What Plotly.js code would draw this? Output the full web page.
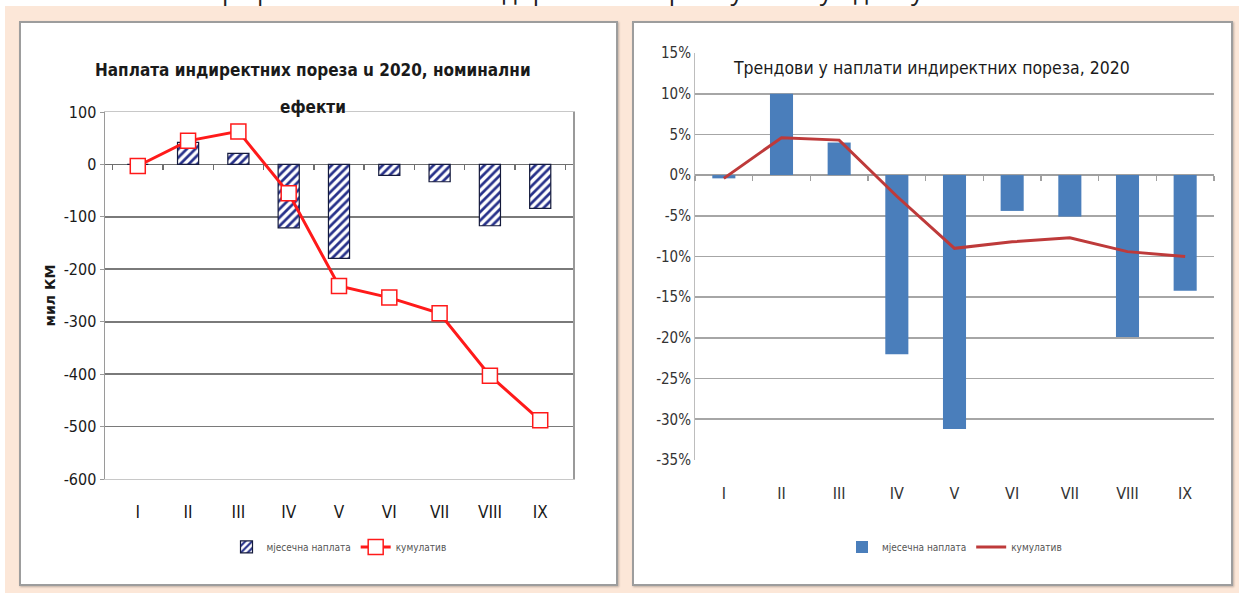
<!DOCTYPE html>
<html>
<head>
<meta charset="utf-8">
<script src="https://cdn.plot.ly/plotly-3.0.1.min.js"></script>
<style>
  html, body { margin: 0; padding: 0; background: #fff; width: 1239px; height: 593px; overflow: hidden; }
  #page { position: relative; width: 1239px; height: 593px; }
  #peach { position: absolute; left: 5px; top: 6px; right: 0; bottom: 0; background: #fce7d8; }
  #caption { position: absolute; left: 0; top: -27px; width: 1239px; text-align: center;
             font: 25px "Open Sans", sans-serif; color: #222; white-space: nowrap; }
  .box { position: absolute; background: #fff; border: 2px solid #9d9d9d; box-sizing: border-box;
         box-shadow: 1px 1px 2px rgba(0,0,0,0.25); }
  #left { left: 19px; top: 21px; width: 599px; height: 565px; }
  #right { left: 632px; top: 21px; width: 601px; height: 565px; }
</style>
</head>
<body>
<div id="page">
  <div id="peach"></div>
  <div id="caption">Графикон 5: Наплата индиректних пореза у 2020. у односу на 2019.</div>
  <div class="box" id="left"></div>
  <div class="box" id="right"></div>
</div>
<script>
// months (roman numerals)
const MONTHS = ['I', 'II', 'III', 'IV', 'V', 'VI', 'VII', 'VIII', 'IX'];

// left panel: nominal effects, mil KM
const monthlyKM = [0, 42, 21, -121, -179, -21, -33, -117, -84];
const cumulKM = [-3, 45, 63, -55, -232, -254, -284, -403, -488];
const kmTicks = [-600, -500, -400, -300, -200, -100, 0, 100];
const kmRange = [-600, 100];

// right panel: trends, %
const monthlyPct = [-0.4, 10.0, 4.0, -22.0, -31.2, -4.4, -5.1, -19.9, -14.2];
const cumulPct = [-0.4, 4.6, 4.3, -2.6, -9.0, -8.2, -7.7, -9.4, -10.0];
const pctTicks = [-35, -30, -25, -20, -15, -10, -5, 0, 5, 10, 15];
const pctRange = [-35, 15];

const NARROW = '"Liberation Sans Narrow", "DejaVu Sans Condensed", Arial, sans-serif';
const LEG_LABELS = ['мјесечна наплата', 'кумулатив'];
const CONFIG = { staticPlot: true, displayModeBar: false };

// where the zero line sits as a fraction of the plot height
const zeroFrac = (r) => (0 - r[0]) / (r[1] - r[0]);

// category-boundary tick marks hanging off the zero line (Excel style)
const zeroTickAxis = (r, color) => ({
  type: 'category', overlaying: 'x', matches: 'x', anchor: 'free', position: zeroFrac(r),
  side: 'bottom', showgrid: false, zeroline: false, showline: false, showticklabels: false,
  ticks: 'outside', tickson: 'boundaries', ticklen: 5, tickcolor: color, tickwidth: 1.3,
});

// --- left: hatched bars + red line with open squares ---------------------
Plotly.newPlot('left', [
  {
    x: MONTHS, y: monthlyKM, type: 'bar', name: LEG_LABELS[0],
    marker: {
      color: '#ffffff',
      line: { color: '#141a3c', width: 1.2 },
      pattern: { shape: '/', fgcolor: '#27318a', bgcolor: '#ffffff', size: 6, solidity: 0.45 },
    },
  },
  {
    x: MONTHS, y: cumulKM, type: 'scatter', mode: 'lines+markers', name: LEG_LABELS[1], xaxis: 'x2',
    line: { color: '#ff1a1a', width: 3 },
    marker: { symbol: 'square', size: 15, color: '#ffffff', line: { color: '#ff1a1a', width: 1.5 } },
  },
], {
  width: 595, height: 561,
  margin: { l: 84, r: 43, t: 89, b: 105 },
  paper_bgcolor: '#ffffff', plot_bgcolor: '#ffffff',
  font: { family: NARROW, color: '#1a1a1a' },
  bargap: 0.58,
  xaxis: {
    type: 'category', showgrid: false, zeroline: false,
    showline: true, mirror: true, linecolor: '#c8c8c8', linewidth: 1,
    ticks: '', ticklabelstandoff: 18, tickfont: { size: 17, family: NARROW },
  },
  xaxis2: zeroTickAxis(kmRange, '#6f6f6f'),
  yaxis: {
    range: kmRange, tickvals: kmTicks, ticktext: kmTicks.map(String),
    gridcolor: '#7a7a7a', gridwidth: 1.6,
    zeroline: true, zerolinecolor: '#6f6f6f', zerolinewidth: 1.6,
    showline: true, mirror: true, linecolor: '#9a9a9a', linewidth: 1.5,
    ticks: 'outside', ticklen: 4, tickcolor: '#9a9a9a',
    tickfont: { size: 16, family: NARROW },
    title: { text: '<b>мил КМ</b>', font: { size: 14, family: '"DejaVu Sans", Arial, sans-serif' }, standoff: 4 },
  },
  annotations: [
    { text: '<b>Наплата индиректних пореза u 2020, номинални</b>', xref: 'paper', yref: 'paper',
      x: 0.445, y: 1 + 42 / 367, xanchor: 'center', yanchor: 'middle', showarrow: false,
      font: { size: 17, family: NARROW, color: '#1a1a1a' } },
    { text: '<b>ефекти</b>', xref: 'paper', yref: 'paper',
      x: 0.445, y: 1 + 5 / 367, xanchor: 'center', yanchor: 'middle', showarrow: false,
      font: { size: 17, family: NARROW, color: '#1a1a1a' } },
  ],
  showlegend: true,
  legend: {
    orientation: 'h', x: 0.5, xanchor: 'center', yref: 'container', y: 0.066, yanchor: 'middle',
    font: { size: 10, family: NARROW, color: '#555' }, itemwidth: 30, tracegroupgap: 0,
  },
}, CONFIG);

// --- right: blue bars + dark red line ---------------------------------------
Plotly.newPlot('right', [
  {
    x: MONTHS, y: monthlyPct, type: 'bar', name: LEG_LABELS[0],
    marker: { color: '#4a7ebb' },
  },
  {
    x: MONTHS, y: cumulPct, type: 'scatter', mode: 'lines', name: LEG_LABELS[1], xaxis: 'x2',
    line: { color: '#be3a3a', width: 3 },
  },
], {
  width: 597, height: 561,
  margin: { l: 61, r: 17, t: 30, b: 124 },
  paper_bgcolor: '#ffffff', plot_bgcolor: '#ffffff',
  font: { family: NARROW, color: '#1a1a1a' },
  bargap: 0.6,
  xaxis: {
    type: 'category', showgrid: false, zeroline: false, showline: false,
    ticks: '', ticklabelstandoff: 22, tickfont: { size: 16, family: NARROW, color: '#333' },
  },
  xaxis2: zeroTickAxis(pctRange, '#a0a0a0'),
  yaxis: {
    range: pctRange, tickvals: pctTicks, ticktext: pctTicks.map((v) => v + '%'),
    gridcolor: '#a6a6a6', gridwidth: 1.6,
    zeroline: true, zerolinecolor: '#a0a0a0', zerolinewidth: 1.6,
    showline: true, linecolor: '#bdbdbd', linewidth: 1,
    ticks: '', tickfont: { size: 15, family: NARROW, color: '#333' },
  },
  annotations: [
    { text: 'Трендови у наплати индиректних пореза, 2020', xref: 'paper', yref: 'paper',
      x: 0.455, y: 1 - 15 / 407, xanchor: 'center', yanchor: 'middle', showarrow: false,
      font: { size: 17.5, family: NARROW, color: '#1a1a1a' } },
  ],
  showlegend: true,
  legend: {
    orientation: 'h', x: 0.5, xanchor: 'center', yref: 'container', y: 0.066, yanchor: 'middle',
    font: { size: 10, family: NARROW, color: '#555' }, itemwidth: 30,
  },
}, CONFIG);
</script>
</body>
</html>
